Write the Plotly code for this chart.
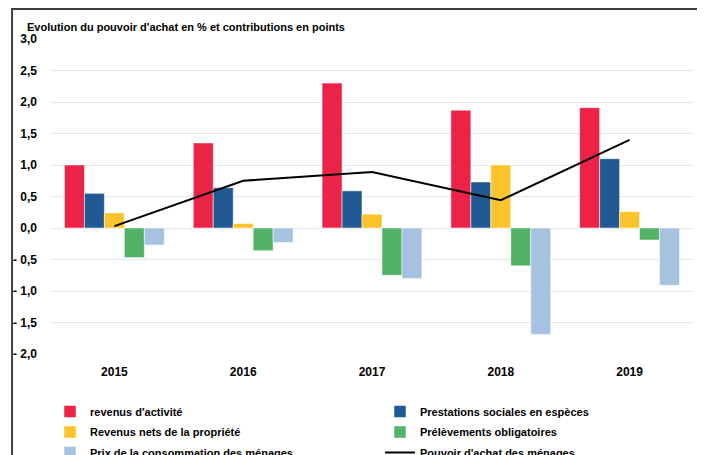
import plotly.graph_objects as go

years = ["2015", "2016", "2017", "2018", "2019"]

revenus_activite = [1.00, 1.35, 2.30, 1.87, 1.91]
prestations_sociales = [0.55, 0.64, 0.59, 0.73, 1.10]
revenus_propriete = [0.24, 0.07, 0.22, 1.00, 0.26]
prelevements = [-0.47, -0.36, -0.75, -0.60, -0.19]
prix_conso = [-0.27, -0.23, -0.80, -1.69, -0.91]
pouvoir_achat = [0.03, 0.75, 0.89, 0.44, 1.40]

tick_vals = [3.0, 2.5, 2.0, 1.5, 1.0, 0.5, 0.0, -0.5, -1.0, -1.5, -2.0]
tick_text = ["3,0", "2,5", "2,0", "1,5", "1,0", "0,5", "0,0",
             "- 0,5", "- 1,0", "- 1,5", "- 2,0"]

FONT = "Liberation Sans, Arial, sans-serif"

# name, values, colour, legend column
bars = [
    ("revenus d'activité", revenus_activite, "#EC2346", "legend"),
    ("Prestations sociales en espèces", prestations_sociales, "#215A93", "legend2"),
    ("Revenus nets de la propriété", revenus_propriete, "#FBC42A", "legend"),
    ("Prélèvements obligatoires", prelevements, "#52B265", "legend2"),
    ("Prix de la consommation des ménages", prix_conso, "#A6C2E0", "legend"),
]

# the page has an 8px body margin, so the figure starts at (8, 8)
L, T, W, H = 42, 31, 644.5, 315

fig = go.Figure()

for name, vals, color, leg in bars:
    fig.add_trace(go.Bar(
        x=years,
        y=vals,
        name=name,
        legend=leg,
        legendgroup=name,
        marker=dict(color=color, line=dict(color="rgba(255,255,255,0.5)", width=1)),
    ))

# Pouvoir d'achat
fig.add_trace(go.Scatter(
    x=years,
    y=pouvoir_achat,
    mode="lines",
    name="Pouvoir d'achat des ménages",
    legend="legend2",
    legendgroup="pouvoir",
    line=dict(color="black", width=2),
))

# frame around the chart
fig.add_shape(
    type="rect", xref="paper", yref="paper",
    x0=(4 - L) / W, x1=(691 - L) / W,
    y0=(T + H - 480) / H, y1=(T + H - 1) / H,
    line=dict(color="#404040", width=2),
)

legend_style = dict(
    orientation="v",
    xref="container", yref="container",
    y=1 - 389 / 455,
    xanchor="left", yanchor="top",
    font=dict(family=FONT, size=11, color="black", weight="bold"),
    itemwidth=30,
    tracegroupgap=1.5,
    bgcolor="rgba(0,0,0,0)",
)

fig.update_layout(
    width=705,
    height=455,
    margin=dict(l=L, r=705 - L - W, t=T, b=455 - T - H, autoexpand=False),
    plot_bgcolor="white",
    paper_bgcolor="white",
    font=dict(family=FONT, size=12, color="black"),
    barmode="group",
    bargap=0.225,
    bargroupgap=0,
    title=dict(
        text="<b>Evolution du pouvoir d'achat en % et contributions en points</b>",
        xref="container", yref="container",
        x=19 / 705, y=1 - 19 / 455,
        xanchor="left", yanchor="middle",
        font=dict(family=FONT, size=11, color="black"),
    ),
    xaxis=dict(
        showgrid=False,
        showline=False,
        automargin=False,
        tickfont=dict(family=FONT, size=12, color="black", weight="bold"),
        ticklabelstandoff=9,
    ),
    yaxis=dict(
        range=[-2.0, 3.0],
        tickvals=tick_vals,
        ticktext=tick_text,
        showgrid=True,
        gridcolor="#E6E6E6",
        zeroline=True,
        zerolinecolor="#E6E6E6",
        zerolinewidth=1,
        automargin=False,
        tickfont=dict(family=FONT, size=12, color="black", weight="bold"),
        ticklabelstandoff=12,
    ),
    legend=dict(legend_style, x=42 / 705),
    legend2=dict(legend_style, x=372 / 705),
)

fig.write_html("out.html")
